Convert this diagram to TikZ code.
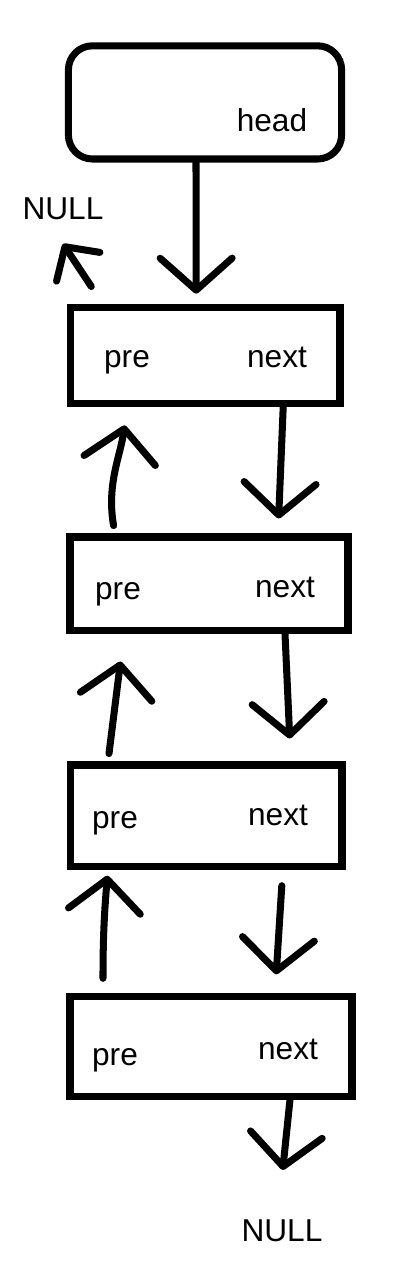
\documentclass[tikz,border=0pt]{standalone}
\usepackage{fontspec}
\setmainfont{Liberation Sans}
\usetikzlibrary{arrows.meta}

\begin{document}
\begin{tikzpicture}[line width=5pt, >={Straight Barb[length=0.8cm, width=1.8cm, round]},
    box/.style={draw, rectangle, inner sep=0pt},
    lbl/.style={inner sep=0pt, anchor=base, font=\fontsize{22.5}{27}\selectfont},
    link/.style={->, line cap=round, line join=round}]
    \useasboundingbox (0,0) rectangle (10.05,-31.8);
    % head
    \node[box, rounded corners=0.6cm, minimum width=6.83cm, minimum height=2.83cm] (head) at (5.125,-2.56) {};
    \node[lbl] (headtxt) at (6.8,-3.275) {head};
    \node[lbl] (null1) at (1.575,-5.475) {NULL};
    % nodes
    \node[box, minimum width=6.74cm, minimum height=2.4cm] (n1) at (5.13,-8.89) {};
    \node[box, minimum width=6.95cm, minimum height=2.33cm] (n2) at (5.225,-14.59) {};
    \node[box, minimum width=6.78cm, minimum height=2.53cm] (n3) at (5.16,-20.39) {};
    \node[box, minimum width=7.05cm, minimum height=2.48cm] (n4) at (5.275,-26.16) {};
    \node[lbl] (pre1) at (3.175,-9.175) {pre};
    \node[lbl] (next1) at (6.925,-9.175) {next};
    \node[lbl] (pre2) at (2.95,-14.975) {pre};
    \node[lbl] (next2) at (7.125,-14.925) {next};
    \node[lbl] (pre3) at (2.875,-20.7) {pre};
    \node[lbl] (next3) at (6.95,-20.625) {next};
    \node[lbl] (pre4) at (2.875,-26.625) {pre};
    \node[lbl] (next4) at (7.2,-26.475) {next};
    \node[lbl] (null2) at (7.05,-31.025) {NULL};
    % links
    \draw[link, shorten >=0.26cm] ([xshift=-0.225cm]head.south) -- ([xshift=-0.225cm]n1.north);
    \draw[link, >={Straight Barb[length=0.6cm, width=1.3cm, round]}] ([shift={(0.61cm,0.44cm)}]n1.north west) -- ([yshift=-0.525cm]null1.south);
    \draw[link, shorten >=0.375cm] ([xshift=1.95cm]n1.south) -- ([xshift=1.725cm]n2.north);
    \draw[link, shorten <=0.2cm, shorten >=0.46cm] ([xshift=-2.35cm]n2.north) to[out=100, in=-98] ([xshift=-1.95cm]n1.south);
    \draw[link, shorten >=0.575cm] ([xshift=1.9cm]n2.south) -- ([xshift=2.11cm]n3.north);
    \draw[link, shorten <=0.2cm, shorten >=0.7cm] ([xshift=-2.46cm]n3.north) -- ([xshift=-2.125cm]n2.south);
    \draw[link, shorten <=0.4cm, shorten >=0.475cm] ([xshift=1.91cm]n3.south) -- ([xshift=1.6cm]n4.north);
    \draw[link, shorten <=0.375cm, shorten >=0.15cm] ([xshift=-2.7cm]n4.north) to[out=90, in=-95] ([xshift=-2.46cm]n3.south);
    \draw[link, shorten >=1.15cm] ([xshift=1.975cm]n4.south) -- ([xshift=-0.1cm]null2.north);
\end{tikzpicture}
\end{document}
